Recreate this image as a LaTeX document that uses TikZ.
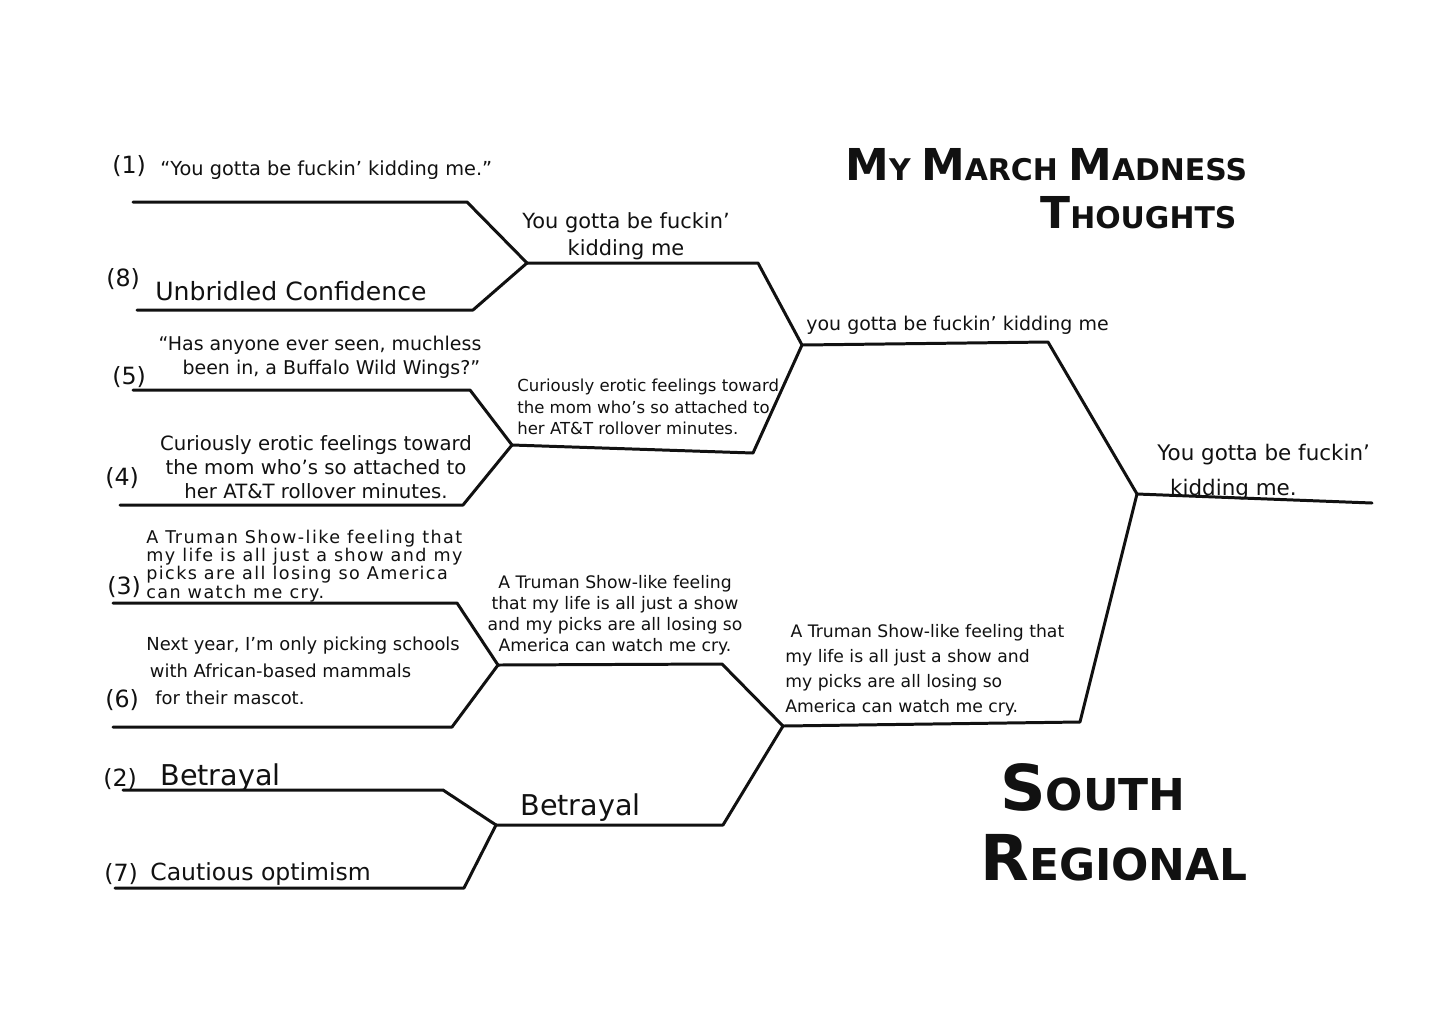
\documentclass[tikz,border=0pt]{standalone}
\usepackage{fontspec}
\setmainfont{DejaVu Sans}
\usetikzlibrary{positioning}
\definecolor{Ink}{HTML}{111111}
\newcommand{\seedfont}{\fontsize{13.5}{15}\selectfont}
\newcommand{\pickbigfont}{\fontsize{14.3}{16}\selectfont}
\newcommand{\picknormalfont}{\fontsize{11}{13.5}\selectfont}
\newcommand{\picksmallfont}{\fontsize{9.4}{12.2}\selectfont}
\newcommand{\picktinyfont}{\fontsize{10}{10.3}\selectfont\addfontfeatures{LetterSpace=8}}
\newcommand{\titlesmallfont}{\bfseries\fontsize{17}{22}\selectfont}
\newcommand{\titlecap}[1]{{\fontsize{25}{25}\selectfont #1}}
\newcommand{\regionsmallfont}{\bfseries\fontsize{25}{30}\selectfont}
\newcommand{\regioncap}[1]{{\fontsize{36}{36}\selectfont #1}}
\tikzset{
  % Hand-drawn bracket strokes and the texts sitting on them.
  bracket line/.style={
    draw=Ink,
    line width=1.7pt,
    line join=round,
    line cap=round
  },
  seed label/.style={
    font=\seedfont,
    text=Ink,
    inner sep=0pt,
    anchor=base west
  },
  pick/.style={
    font=\picknormalfont,
    text=Ink,
    inner sep=0pt,
    anchor=base west
  },
  pick block/.style={
    font=#1,
    text=Ink,
    inner sep=0pt,
    align=center
  },
  pick block/.default=\picknormalfont,
  heading/.style={
    font=\titlesmallfont,
    text=Ink,
    inner sep=0pt,
    anchor=base west
  }
}

\begin{document}
\begin{tikzpicture}[x=0.2mm,y=-0.2mm]

\useasboundingbox[fill=white] (0,0) rectangle (1454,1027);

% ---------------------------------------------------------------------------
% Bracket geometry: first-round lines, then the joints of each round
% ---------------------------------------------------------------------------
\foreach \name/\xa/\xb/\yy in {
  one/133/467/202,
  eight/137/473/310,
  five/133/470/390,
  four/120/463/505,
  three/113/457/603,
  six/113/452/727,
  two/123/443/790,
  seven/115/464/888
}{
  \coordinate (\name Start) at (\xa,\yy);
  \coordinate (\name End) at (\xb,\yy);
}

\coordinate (pairA) at (527,263);
\coordinate (pairB) at (512,445);
\coordinate (pairC) at (498,665);
\coordinate (pairD) at (496,825);
\coordinate (pairAEnd) at (758,263);
\coordinate (pairBEnd) at (753,453);
\coordinate (pairCEnd) at (722,664);
\coordinate (pairDEnd) at (723,825);
\coordinate (semiTop) at (802,345);
\coordinate (semiBottom) at (783,726);
\coordinate (semiTopEnd) at (1048,342);
\coordinate (semiBottomEnd) at (1080,722);
\coordinate (finalJoint) at (1137,494);
\coordinate (finalEnd) at (1372,503);

\draw[bracket line] (oneStart) -- (oneEnd) -- (pairA);
\draw[bracket line] (eightStart) -- (eightEnd) -- (pairA);
\draw[bracket line] (fiveStart) -- (fiveEnd) -- (pairB);
\draw[bracket line] (fourStart) -- (fourEnd) -- (pairB);
\draw[bracket line] (threeStart) -- (threeEnd) -- (pairC);
\draw[bracket line] (sixStart) -- (sixEnd) -- (pairC);
\draw[bracket line] (twoStart) -- (twoEnd) -- (pairD);
\draw[bracket line] (sevenStart) -- (sevenEnd) -- (pairD);

\draw[bracket line] (pairA) -- (pairAEnd) -- (semiTop);
\draw[bracket line] (pairB) -- (pairBEnd) -- (semiTop);
\draw[bracket line] (pairC) -- (pairCEnd) -- (semiBottom);
\draw[bracket line] (pairD) -- (pairDEnd) -- (semiBottom);

\draw[bracket line] (semiTop) -- (semiTopEnd) -- (finalJoint);
\draw[bracket line] (semiBottom) -- (semiBottomEnd) -- (finalJoint);
\draw[bracket line] (finalJoint) -- (finalEnd);

% ---------------------------------------------------------------------------
% First round: seeds and their entries
% ---------------------------------------------------------------------------
\node[seed label] (seedOne) at (112,173) {(1)};
\node[pick] (pickOne) at (160,175) {``You gotta be fuckin' kidding me.''};

\node[seed label] (seedEight) at (106,286) {(8)};
\node[pick, font=\pickbigfont] (pickEight) at (155,300) {Unbridled Confidence};

\node[seed label] (seedFive) at (112,384) {(5)};
\node[pick block=\fontsize{10.8}{13.5}\selectfont] (pickFive) at (320,357)
  {``Has anyone ever seen, muchless\\
   \hspace*{1.2em}been in, a Buffalo Wild Wings?''};

\node[seed label] (seedFour) at (105,485) {(4)};
\node[pick block=\fontsize{11.2}{13.7}\selectfont] (pickFour) at (316,467)
  {Curiously erotic feelings toward\\
   the mom who's so attached to\\
   her AT\&T rollover minutes.};

\node[seed label] (seedThree) at (107,594) {(3)};
\node[pick block=\picktinyfont, anchor=west, align=left] (pickThree) at (146,566)
  {A Truman Show-like feeling that\\
   my life is all just a show and my\\
   picks are all losing so America\\
   can watch me cry.};

\node[seed label] (seedSix) at (105,707) {(6)};
\node[pick block=\fontsize{10.2}{15.5}\selectfont, anchor=west, align=left] (pickSix) at (146,671)
  {Next year, I'm only picking schools\\
   \hspace*{0.2em}with African-based mammals\\
   \hspace*{0.5em}for their mascot.};

\node[seed label] (seedTwo) at (103,786) {(2)};
\node[pick, font=\fontsize{16.3}{18}\selectfont] (pickTwo) at (160,785) {Betrayal};

\node[seed label] (seedSeven) at (104,881) {(7)};
\node[pick, font=\fontsize{13.4}{15}\selectfont] (pickSeven) at (150,880) {Cautious optimism};

% ---------------------------------------------------------------------------
% Later rounds: who advances
% ---------------------------------------------------------------------------
\node[pick block=\fontsize{11.9}{15.5}\selectfont] (roundTwoA) at (626,236)
  {You gotta be fuckin'\\kidding me};

\node[pick block=\picksmallfont, anchor=west, align=left] (roundTwoB) at (517,407)
  {Curiously erotic feelings toward\\
   the mom who's so attached to\\
   her AT\&T rollover minutes.};

\node[pick block=\fontsize{9.8}{12}\selectfont] (roundTwoC) at (615,615)
  {A Truman Show-like feeling\\
   that my life is all just a show\\
   and my picks are all losing so\\
   America can watch me cry.};

\node[pick, font=\fontsize{16.3}{18}\selectfont] (roundTwoD) at (520,815) {Betrayal};

\node[pick, font=\fontsize{10.8}{13}\selectfont] (semiTopPick) at (806,330) {you gotta be fuckin' kidding me};

\node[pick block=\fontsize{9.8}{14.2}\selectfont, anchor=west, align=left] (semiBottomPick) at (785,670)
  {\hspace*{0.3em}A Truman Show-like feeling that\\
   my life is all just a show and\\
   my picks are all losing so\\
   America can watch me cry.};

\node[pick block=\fontsize{12.2}{19.5}\selectfont, anchor=west, align=left] (champion) at (1157,472)
  {You gotta be fuckin'\\
   \hspace*{0.6em}kidding me.};

% ---------------------------------------------------------------------------
% Headings
% ---------------------------------------------------------------------------
\node[heading] (mainTitle) at (845,180)
  {\titlecap{M}Y \titlecap{M}ARCH \titlecap{M}ADNESS};
\node[heading] (mainTitleTwo) at (1040,228)
  {\titlecap{T}HOUGHTS};

\node[heading, font=\regionsmallfont] (regionTitle) at (1000,810)
  {\regioncap{S}OUTH};
\node[heading, font=\regionsmallfont] (regionTitleTwo) at (980,880)
  {\regioncap{R}EGIONAL};

\end{tikzpicture}
\end{document}
